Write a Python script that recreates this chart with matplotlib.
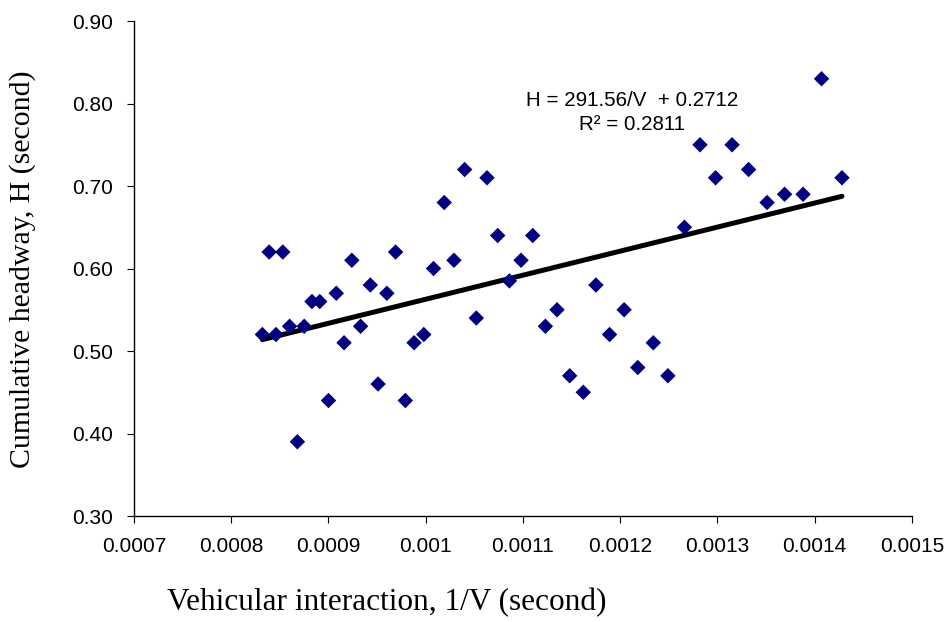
import matplotlib
matplotlib.use("Agg")
import matplotlib.pyplot as plt
import numpy as np

# Inverse speed 1/V (s) and cumulative headway H (s)
inv_speed = [0.000832, 0.000839, 0.000846, 0.000853, 0.000860, 0.000868, 0.000875,
             0.000883, 0.000891, 0.000900, 0.000908, 0.000916, 0.000924, 0.000933,
             0.000943, 0.000951, 0.000960, 0.000969, 0.000979, 0.000988, 0.000998,
             0.001008, 0.001019, 0.001029, 0.001040, 0.001052, 0.001063, 0.001074,
             0.001086, 0.001098, 0.001110, 0.001123, 0.001135, 0.001148, 0.001162,
             0.001175, 0.001189, 0.001204, 0.001218, 0.001234, 0.001249, 0.001266,
             0.001282, 0.001298, 0.001315, 0.001332, 0.001351, 0.001369, 0.001388,
             0.001407, 0.001428]
headway = [0.52, 0.62, 0.52, 0.62, 0.53, 0.39, 0.53,
           0.56, 0.56, 0.44, 0.57, 0.51, 0.61, 0.53,
           0.58, 0.46, 0.57, 0.62, 0.44, 0.51, 0.52,
           0.60, 0.68, 0.61, 0.72, 0.54, 0.71, 0.64,
           0.585, 0.61, 0.64, 0.53, 0.55, 0.47, 0.45,
           0.58, 0.52, 0.55, 0.48, 0.51, 0.47, 0.65,
           0.75, 0.71, 0.75, 0.72, 0.68, 0.69, 0.69,
           0.83, 0.71]

# Fitted trend H = a/V + b
slope = 291.56
intercept = 0.2712
r_squared = 0.2811

x_ticks = [0.0007, 0.0008, 0.0009, 0.0010, 0.0011, 0.0012, 0.0013, 0.0014, 0.0015]
x_tick_labels = ["0.0007", "0.0008", "0.0009", "0.001", "0.0011", "0.0012",
                 "0.0013", "0.0014", "0.0015"]
y_ticks = [0.30, 0.40, 0.50, 0.60, 0.70, 0.80, 0.90]
y_tick_labels = ["0.30", "0.40", "0.50", "0.60", "0.70", "0.80", "0.90"]

plt.rcParams["font.family"] = ["Liberation Sans", "DejaVu Sans"]

fig = plt.figure(figsize=(9.49, 6.22), dpi=100)
ax = fig.add_axes([0.1412, 0.1704, 0.8198, 0.7958])

ax.scatter(inv_speed, headway, marker="D", s=62, color="#000080",
           edgecolors="none", zorder=3)

x_fit = np.array([min(inv_speed), max(inv_speed)])
ax.plot(x_fit, slope * x_fit + intercept, color="black", lw=3.6,
        solid_capstyle="round", zorder=2)

ax.text(0.0012125, 0.804, f"H = {slope:.2f}/V  + {intercept:.4f}",
        ha="center", va="center", fontsize=14.8)
ax.text(0.0012125, 0.774, f"R² = {r_squared:.4f}",
        ha="center", va="center", fontsize=14.8)

ax.set_xlim(0.0007, 0.0015)
ax.set_ylim(0.30, 0.90)
ax.set_xticks(x_ticks)
ax.set_xticklabels(x_tick_labels)
ax.set_yticks(y_ticks)
ax.set_yticklabels(y_tick_labels)
ax.tick_params(direction="out", length=5, width=0.8, labelsize=15, pad=10)

for side in ("top", "right"):
    ax.spines[side].set_visible(False)
for side in ("left", "bottom"):
    ax.spines[side].set_linewidth(1.0)

fig.text(0.408, 0.0305, "Vehicular interaction, 1/V (second)",
         ha="center", va="center", fontsize=22.5, family="Liberation Serif")
fig.text(0.024, 0.568, "Cumulative headway, H (second)",
         ha="center", va="center", rotation=90, fontsize=21.5,
         family="Liberation Serif")

fig.savefig("out.png", dpi=100)
